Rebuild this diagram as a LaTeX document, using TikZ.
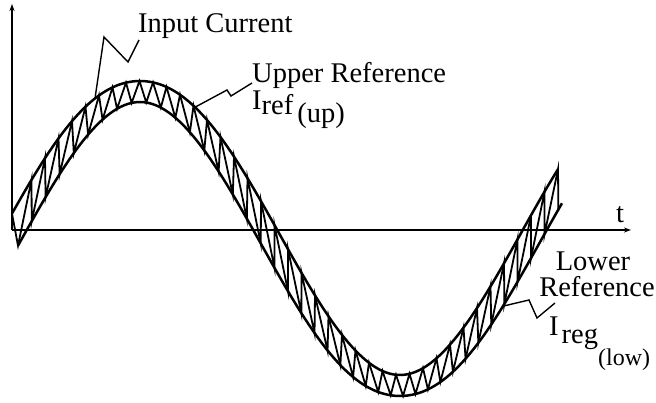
\documentclass[tikz,border=0pt]{standalone}
\usepackage{fontspec}
\setmainfont{Liberation Serif}
\newfontfamily\labelfont{Liberation Serif}
\usepackage{tikz}
\usetikzlibrary{arrows.meta}
\tikzset{
    % Band: a sine wave with a strip of constant width round it
    declare function={
        bandph(\t)=0.692308*(\t-10);
        bandc(\t)=238.5-147*sin(bandph(\t));
        bandnn(\t)=sqrt(1+(1.776*cos(bandph(\t)))^2);
        bandup(\t)=bandc(\t)-10.5*bandnn(\t);
        bandlo(\t)=bandc(\t)+10.5*bandnn(\t);
        bandlam(\t)=(1-cos(bandph(\t)))/2;
    },
    % Axes
    axisline/.style={
        line width=1.1pt,
        -{Stealth[length=7pt, width=5pt]},
    },
    % Upper and lower reference
    refedge/.style={
        line width=2.5pt,
        line join=round,
    },
    % Input current zigzag
    current/.style={
        line width=1.8pt,
        line join=miter,
    },
    % Callout lines
    leader/.style={
        line width=1.4pt,
        line join=miter,
    },
    % Labels
    lbl/.style={
        inner sep=0pt,
        anchor=base west,
        font=\labelfont\fontsize{28.5}{30}\selectfont,
    },
}

\begin{document}
\begin{tikzpicture}[x=1pt, y=-1pt]
    \useasboundingbox (0,0) rectangle (656,403);

    % axes
    \coordinate (origin) at (12,230);
    \coordinate (ytop) at (12,4);
    \coordinate (tend) at (631,230);
    \draw[axisline] (origin) -- (ytop);
    \draw[axisline] (origin) -- (tend);
    \node[lbl] (tLbl) at (616,223) {t};

    % reference band
    \draw[refedge] plot[domain=12:558, samples=160, smooth] (\x, {bandup(\x)});
    \draw[refedge] plot[domain=18:562, samples=160, smooth] (\x, {bandlo(\x)});

    % input current
    \draw[current] (12,{bandup(12)}) -- (18,{bandlo(18)})
        \foreach \k [evaluate=\k as \cu using 18+13.5*\k+13.5,
                     evaluate=\k as \cl using 18+13.5*(\k+1)+13.5*bandlam(18+13.5*(\k+1))]
        in {0,...,39} { -- (\cu,{bandup(\cu)}) -- (\cl,{bandlo(\cl)}) };

    % labels
    \node[lbl] (icLbl) at (138,33) {Input Current};
    \node[lbl] (upLbl) at (252,83) {Upper Reference};
    \node[lbl] (irefLbl) at (252,110) {I\raisebox{-5pt}{ref\kern4pt\raisebox{-8pt}{(up)}}};
    \node[lbl, anchor=base] (lowLbl) at (593,271) {Lower};
    \node[lbl, anchor=base] (lowRefLbl) at (597,297) {Reference};
    \node[lbl] (iregLbl) at (549,336) {I\kern3pt\raisebox{-7pt}{reg\raisebox{-22pt}{\fontsize{24}{24}\selectfont(low)}}};

    % callouts
    \coordinate (icFoot) at (95,{bandup(95)});
    \coordinate (upFoot) at (195,{bandup(195)});
    \coordinate (loFoot) at (503,{bandlo(503)});
    \draw[leader] (icFoot) -- (104,37) -- (128,62) -- (139,40);
    \draw[leader] (upFoot) -- (227,90) -- (231,96) -- (upLbl.base west);
    \draw[leader] (loFoot) -- (529,300) -- (537,318) -- (555,303);
\end{tikzpicture}
\end{document}
